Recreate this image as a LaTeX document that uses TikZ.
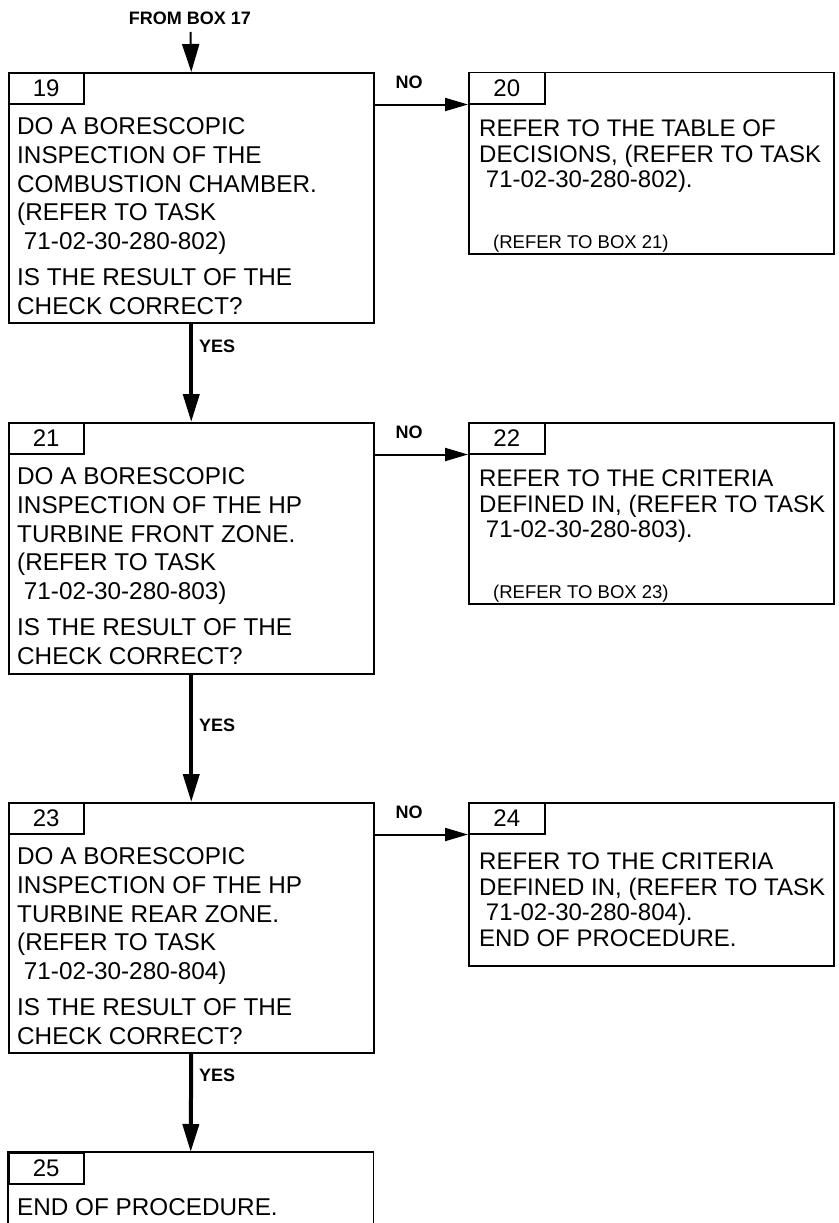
\documentclass[tikz,border=0pt]{standalone}
\usepackage{fontspec}
\setmainfont{Liberation Sans}
\usetikzlibrary{arrows.meta}
\newcommand{\bigfont}{\fontsize{24.3}{28.7}\selectfont}
\newcommand{\rfont}{\fontsize{24}{25.5}\selectfont}
\newcommand{\smallfont}{\fontsize{18.5}{20}\selectfont}
\newcommand{\lead}{\hspace*{6.7pt}}
\begin{document}
\begin{tikzpicture}[x=1pt,y=-1pt,
  box/.style={draw,line width=1.5pt,minimum width=365pt,inner sep=0pt,anchor=north west},
  openbox/.style={minimum width=365pt,inner sep=0pt,anchor=north west},
  tab/.style={draw,line width=1.5pt,minimum width=75pt,minimum height=31pt,inner sep=0pt,anchor=north west,font=\fontsize{24}{28}\selectfont},
  txt/.style={inner sep=0pt,anchor=base west},
  lbl/.style={inner sep=0pt,font=\bfseries\fontsize{18}{20}\selectfont},
  yesarrow/.style={line width=4pt,-{Triangle[length=28pt,width=16pt]}},
  noarrow/.style={line width=2pt,-{Triangle[length=23pt,width=13pt]}},
  inarrow/.style={line width=2pt,-{Triangle[length=28pt,width=17pt]}},
  boxline/.style={line width=1.5pt}
]
\useasboundingbox (0,0) rectangle (838,1223);

% ---- boxes
\node[box,minimum height=250pt] (b19) at (8,72) {};
\node[tab] (t19) at (8,72) {19};
\node[box,minimum height=181pt] (b20) at (468,72) {};
\node[tab,minimum width=76pt] (t20) at (468,72) {20};

\node[box,minimum height=251pt] (b21) at (8,422) {};
\node[tab] (t21) at (8,422) {21};
\node[box,minimum height=181pt] (b22) at (468,422) {};
\node[tab,minimum width=76pt] (t22) at (468,422) {22};

\node[box,minimum height=250pt] (b23) at (8,802) {};
\node[tab] (t23) at (8,802) {23};
\node[box,minimum height=163pt] (b24) at (468,802) {};
\node[tab,minimum width=76pt] (t24) at (468,802) {24};

\node[openbox,minimum height=75pt] (b25) at (8,1152) {};
\draw[boxline] (b25.south west) -- (b25.north west) -- (b25.north east) -- (b25.south east);
\node[tab] (t25) at (8,1152) {25};

% ---- texts
\node[txt] (x19) at (17,134.6) {\parbox[t]{350pt}{\bigfont\raggedright
DO A BORESCOPIC\\
INSPECTION OF THE\\
COMBUSTION CHAMBER.\\
(REFER TO TASK\\
\lead 71-02-30-280-802)\\[7.5pt]
IS THE RESULT OF THE\\
CHECK CORRECT?}};

\node[txt] (x20) at (479,136.6) {\parbox[t]{350pt}{\rfont\raggedright
REFER TO THE TABLE OF\\
DECISIONS, (REFER TO TASK\\
\lead 71-02-30-280-802).}};
\node[txt,font=\smallfont] (s20) at (493,248.5) {(REFER TO BOX 21)};

\node[txt] (x21) at (17,484.6) {\parbox[t]{350pt}{\bigfont\raggedright
DO A BORESCOPIC\\
INSPECTION OF THE HP\\
TURBINE FRONT ZONE.\\
(REFER TO TASK\\
\lead 71-02-30-280-803)\\[7.5pt]
IS THE RESULT OF THE\\
CHECK CORRECT?}};

\node[txt] (x22) at (479,486.6) {\parbox[t]{350pt}{\rfont\raggedright
REFER TO THE CRITERIA\\
DEFINED IN, (REFER TO TASK\\
\lead 71-02-30-280-803).}};
\node[txt,font=\smallfont] (s22) at (493,598.5) {(REFER TO BOX 23)};

\node[txt] (x23) at (17,864.6) {\parbox[t]{350pt}{\bigfont\raggedright
DO A BORESCOPIC\\
INSPECTION OF THE HP\\
TURBINE REAR ZONE.\\
(REFER TO TASK\\
\lead 71-02-30-280-804)\\[7.5pt]
IS THE RESULT OF THE\\
CHECK CORRECT?}};

\node[txt] (x24) at (479,869.6) {\parbox[t]{350pt}{\rfont\raggedright
REFER TO THE CRITERIA\\
DEFINED IN, (REFER TO TASK\\
\lead 71-02-30-280-804).\\
END OF PROCEDURE.}};

\node[txt] (x25) at (17,1215.6) {\bigfont END OF PROCEDURE.};

% ---- connectors
\node[lbl] (from) at (190,18) {FROM BOX 17};
\coordinate (in) at (190.5,32);
\draw[inarrow] (in) -- (b19.north);

\draw[noarrow] (t20.south west -| b19.east) -- (t20.south west);
\node[lbl] (no1) at (409,82) {NO};
\draw[yesarrow] (b19.south) -- (b21.north);
\node[lbl,anchor=west] (yes1) at (199,346) {YES};

\draw[noarrow] (t22.south west -| b21.east) -- (t22.south west);
\node[lbl] (no2) at (409,432) {NO};
\draw[yesarrow] (b21.south) -- (b23.north);
\node[lbl,anchor=west] (yes2) at (199,725) {YES};

\draw[noarrow] (t24.south west -| b23.east) -- (t24.south west);
\node[lbl] (no3) at (409,812) {NO};
\draw[yesarrow] (b23.south) -- (b25.north);
\node[lbl,anchor=west] (yes3) at (199,1075) {YES};
\end{tikzpicture}
\end{document}
